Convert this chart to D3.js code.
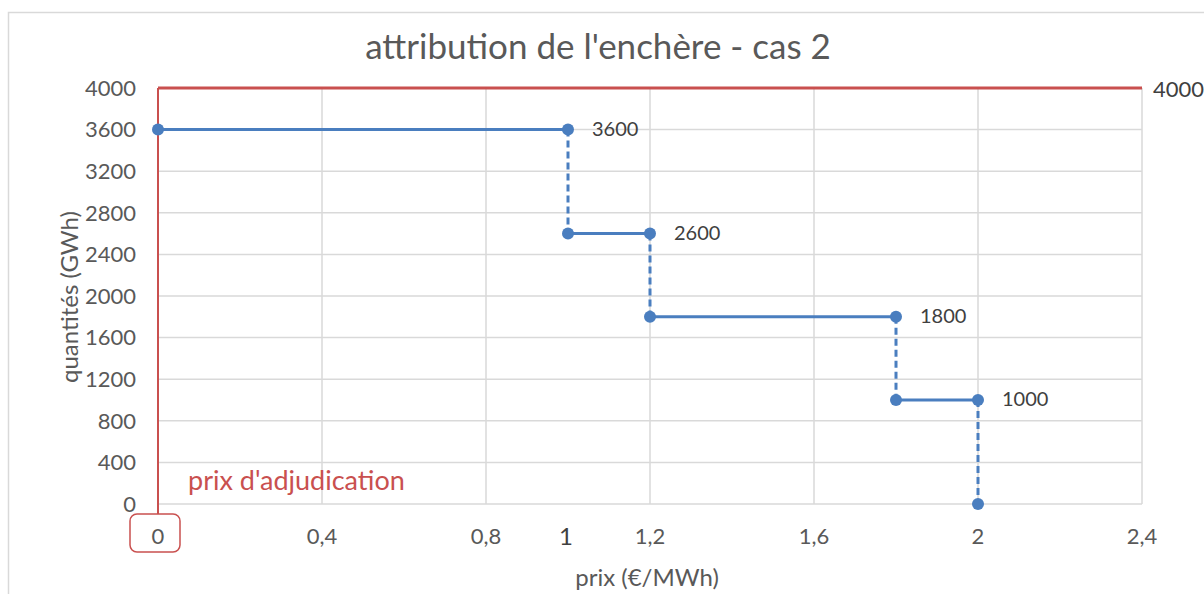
<!DOCTYPE html>
<html>
<head>
<meta charset="utf-8">
<script src="https://cdn.jsdelivr.net/npm/d3@7"></script>
<style>
  body { margin: 0; background: #fff; }
  svg text { font-family: Lato, sans-serif; }
</style>
</head>
<body>
<svg id="chart" width="1204" height="594"></svg>
<script>
// data
var titre = "attribution de l'enchère - cas 2";
var prixTicks = [0, 0.4, 0.8, 1.2, 1.6, 2, 2.4];
var qteTicks = [0, 400, 800, 1200, 1600, 2000, 2400, 2800, 3200, 3600, 4000];
// courbe en escalier (prix, quantité)
var stepPrix = [0, 1, 1, 1.2, 1.2, 1.8, 1.8, 2, 2];
var stepQte = [3600, 3600, 2600, 2600, 1800, 1800, 1000, 1000, 0];
// étiquettes de données
var labelPrix = [1, 1.2, 1.8, 2];
var labelQte = [3600, 2600, 1800, 1000];
var prixAdjudication = 0;
var plafond = 4000;

var blue = "#4a7ebf", red = "#c9504f", grid = "#d9d9d9", txt = "#595959";

var svg = d3.select("#chart");

// cadre du graphique
svg.append("rect")
  .attr("x", 8.5).attr("y", 12.5)
  .attr("width", 1300).attr("height", 700)
  .attr("fill", "none").attr("stroke", grid).attr("stroke-width", 1.5);

var x = d3.scaleLinear().domain([0, 2.4]).range([158, 1142]);
var y = d3.scaleLinear().domain([0, 4000]).range([504, 88]);

// grille
svg.append("g")
  .selectAll("line")
  .data(prixTicks)
  .join("line")
    .attr("x1", d => x(d)).attr("x2", d => x(d))
    .attr("y1", y(4000)).attr("y2", y(0))
    .attr("stroke", grid).attr("stroke-width", 1.5);

svg.append("g")
  .selectAll("line")
  .data(qteTicks)
  .join("line")
    .attr("x1", x(0)).attr("x2", x(2.4))
    .attr("y1", d => y(d)).attr("y2", d => y(d))
    .attr("stroke", grid).attr("stroke-width", 1.5);

// étiquettes des axes
svg.append("g")
  .selectAll("text")
  .data(qteTicks)
  .join("text")
    .attr("x", 136).attr("y", d => y(d))
    .attr("dy", "0.35em")
    .attr("text-anchor", "end")
    .attr("font-size", 22)
    .attr("fill", txt)
    .text(d => d);

var fmt = d => String(d).replace(".", ",");
svg.append("g")
  .selectAll("text")
  .data(prixTicks)
  .join("text")
    .attr("x", d => x(d)).attr("y", 536)
    .attr("dy", "0.35em")
    .attr("text-anchor", "middle")
    .attr("font-size", 22)
    .attr("fill", txt)
    .text(fmt);

// "1" ajouté à la main sous l'axe
svg.append("text")
  .attr("x", x(1) - 2).attr("y", 537)
  .attr("dy", "0.35em")
  .attr("text-anchor", "middle")
  .attr("font-size", 24)
  .attr("fill", "#404040")
  .text("1");

// titres
svg.append("text")
  .attr("x", 598).attr("y", 47)
  .attr("dy", "0.35em")
  .attr("text-anchor", "middle")
  .attr("font-size", 35)
  .attr("fill", txt)
  .text(titre);

svg.append("text")
  .attr("x", 647).attr("y", 578)
  .attr("dy", "0.35em")
  .attr("text-anchor", "middle")
  .attr("font-size", 24)
  .attr("fill", txt)
  .text("prix (€/MWh)");

svg.append("text")
  .attr("transform", "translate(70,297) rotate(-90)")
  .attr("dy", "0.35em")
  .attr("text-anchor", "middle")
  .attr("font-size", 24)
  .attr("fill", txt)
  .text("quantités (GWh)");

// prix d'adjudication (vertical) et plafond (horizontal)
svg.append("line")
  .attr("x1", x(prixAdjudication)).attr("x2", x(prixAdjudication))
  .attr("y1", y(plafond)).attr("y2", 514)
  .attr("stroke", red).attr("stroke-width", 2);

svg.append("line")
  .attr("x1", x(0)).attr("x2", x(2.4))
  .attr("y1", y(plafond)).attr("y2", y(plafond))
  .attr("stroke", red).attr("stroke-width", 3);

svg.append("text")
  .attr("x", x(2.4) + 11).attr("y", y(plafond) + 1)
  .attr("dy", "0.35em")
  .attr("font-size", 22)
  .attr("fill", "#404040")
  .text(plafond);

svg.append("rect")
  .attr("x", 130).attr("y", 514)
  .attr("width", 50).attr("height", 38)
  .attr("rx", 7)
  .attr("fill", "none").attr("stroke", red).attr("stroke-width", 1.5);

svg.append("text")
  .attr("x", 188).attr("y", 481)
  .attr("dy", "0.35em")
  .attr("font-size", 27)
  .attr("fill", red)
  .text("prix d'adjudication");

// courbe en escalier
var pts = stepPrix.map((p, i) => [p, stepQte[i]]);
var segs = d3.pairs(pts);

svg.append("g")
  .selectAll("line")
  .data(segs)
  .join("line")
    .attr("x1", d => x(d[0][0])).attr("y1", d => y(d[0][1]))
    .attr("x2", d => x(d[1][0])).attr("y2", d => y(d[1][1]))
    .attr("stroke", blue).attr("stroke-width", 3)
    .attr("stroke-dasharray", d => d[0][0] === d[1][0] ? "7,4" : null);

svg.append("g")
  .selectAll("circle")
  .data(pts)
  .join("circle")
    .attr("cx", d => x(d[0])).attr("cy", d => y(d[1]))
    .attr("r", 6)
    .attr("fill", blue);

svg.append("g")
  .selectAll("text")
  .data(labelPrix)
  .join("text")
    .attr("x", d => x(d) + 24).attr("y", (d, i) => y(labelQte[i]) - 1)
    .attr("dy", "0.35em")
    .attr("font-size", 20)
    .attr("fill", "#404040")
    .text((d, i) => labelQte[i]);
</script>
</body>
</html>
